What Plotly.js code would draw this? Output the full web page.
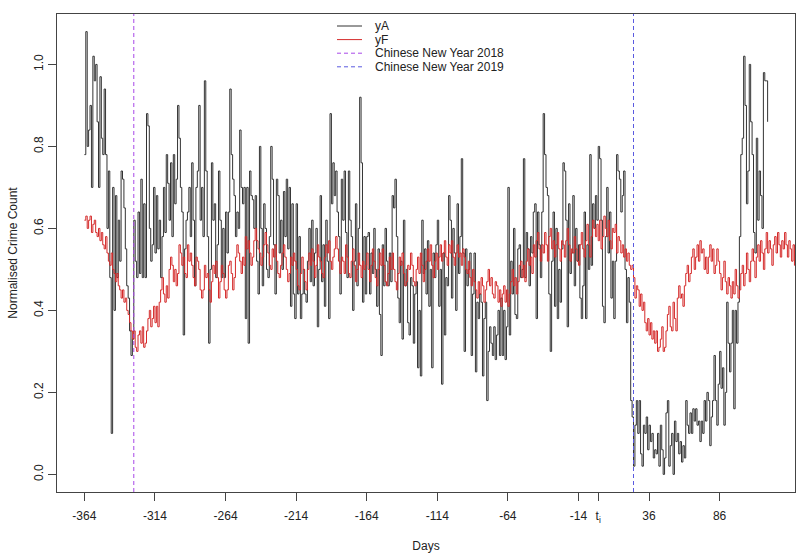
<!DOCTYPE html>
<html>
<head>
<meta charset="utf-8">
<script src="https://cdn.plot.ly/plotly-3.0.1.min.js"></script>
<style>
  html, body { margin: 0; padding: 0; background: #fff; }
  #graph { width: 800px; height: 555px; }
</style>
</head>
<body>
<div id="graph"></div>
<script>
// first day of both series (days relative to t_i)
var startDay = -364;

// actual normalised crime count, one value per day from -364 to 120
var yA = [
  0.78, 1.08, 0.80, 0.84, 0.90, 0.70, 1.02, 0.96, 1.00, 0.86,
  0.70, 0.97, 0.82, 0.78, 0.94, 0.78, 0.60, 0.74, 0.48, 0.10,
  0.70, 0.40, 0.68, 0.48, 0.62, 0.52, 0.74, 0.72, 0.65, 0.55,
  0.46, 0.43, 0.35, 0.29, 0.33, 0.62, 0.52, 0.48, 0.64, 0.49,
  0.72, 0.48, 0.66, 0.48, 0.88, 0.85, 0.60, 0.52, 0.56, 0.70,
  // -314
  0.54, 0.68, 0.55, 0.62, 0.48, 0.58, 0.70, 0.59, 0.78, 0.71,
  0.62, 0.76, 0.58, 0.78, 0.66, 0.72, 0.90, 0.82, 0.70, 0.64,
  0.34, 0.55, 0.62, 0.64, 0.70, 0.58, 0.76, 0.62, 0.46, 0.70,
  0.74, 0.90, 0.62, 0.70, 0.58, 0.96, 0.74, 0.58, 0.32, 0.50,
  0.76, 0.62, 0.66, 0.48, 0.56, 0.74, 0.62, 0.48, 0.60, 0.48,
  // -264
  0.64, 0.54, 0.64, 0.94, 0.78, 0.72, 0.68, 0.58, 0.64, 0.60,
  0.84, 0.70, 0.66, 0.70, 0.38, 0.70, 0.32, 0.74, 0.68, 0.67,
  0.60, 0.68, 0.52, 0.44, 0.80, 0.60, 0.46, 0.66, 0.60, 0.50,
  0.48, 0.58, 0.80, 0.72, 0.56, 0.44, 0.72, 0.68, 0.54, 0.62,
  0.50, 0.69, 0.58, 0.72, 0.55, 0.70, 0.41, 0.66, 0.44, 0.38,
  // -214
  0.66, 0.44, 0.58, 0.38, 0.44, 0.50, 0.44, 0.42, 0.52, 0.60,
  0.47, 0.62, 0.46, 0.54, 0.60, 0.36, 0.50, 0.68, 0.47, 0.56,
  0.41, 0.62, 0.52, 0.38, 0.88, 0.66, 0.76, 0.68, 0.74, 0.64,
  0.58, 0.44, 0.72, 0.62, 0.74, 0.59, 0.48, 0.74, 0.62, 0.58,
  0.40, 0.52, 0.66, 0.46, 0.60, 0.92, 0.76, 0.42, 0.58, 0.44,
  // -164
  0.58, 0.59, 0.44, 0.54, 0.49, 0.60, 0.50, 0.41, 0.55, 0.39,
  0.29, 0.56, 0.46, 0.60, 0.52, 0.46, 0.54, 0.47, 0.68, 0.65,
  0.72, 0.58, 0.43, 0.37, 0.52, 0.33, 0.62, 0.46, 0.50, 0.37,
  0.34, 0.48, 0.46, 0.32, 0.44, 0.47, 0.26, 0.40, 0.24, 0.62,
  0.49, 0.55, 0.44, 0.57, 0.41, 0.50, 0.26, 0.54, 0.48, 0.56,
  // -114
  0.62, 0.41, 0.50, 0.22, 0.54, 0.34, 0.48, 0.46, 0.68, 0.62,
  0.43, 0.60, 0.54, 0.40, 0.66, 0.49, 0.58, 0.77, 0.54, 0.30,
  0.55, 0.46, 0.50, 0.54, 0.29, 0.44, 0.54, 0.25, 0.42, 0.38,
  0.44, 0.42, 0.24, 0.38, 0.42, 0.18, 0.30, 0.36, 0.32, 0.29,
  0.36, 0.28, 0.34, 0.40, 0.29, 0.43, 0.29, 0.40, 0.28, 0.36,
  // -64
  0.70, 0.34, 0.52, 0.44, 0.60, 0.39, 0.38, 0.55, 0.56, 0.48,
  0.50, 0.77, 0.48, 0.59, 0.55, 0.46, 0.58, 0.54, 0.64, 0.66,
  0.38, 0.64, 0.56, 0.48, 0.64, 0.88, 0.78, 0.70, 0.68, 0.44,
  0.30, 0.52, 0.64, 0.41, 0.60, 0.38, 0.50, 0.42, 0.55, 0.76,
  0.74, 0.62, 0.36, 0.66, 0.49, 0.54, 0.68, 0.46, 0.60, 0.52,
  // -14
  0.56, 0.43, 0.38, 0.46, 0.64, 0.38, 0.56, 0.50, 0.78, 0.51,
  0.66, 0.60, 0.68, 0.62, 0.80, 0.77, 0.62, 0.41, 0.37, 0.58,
  0.70, 0.54, 0.64, 0.43, 0.52, 0.38, 0.52, 0.78, 0.74, 0.72,
  0.64, 0.68, 0.74, 0.50, 0.37, 0.48, 0.42, 0.18, 0.14, 0.02,
  0.12, 0.18, 0.10, 0.18, 0.05, 0.02, 0.12, 0.10, 0.14, 0.06,
  // 36
  0.12, 0.08, 0.10, 0.04, 0.06, 0.05, 0.10, 0.02, 0.12, 0.06,
  0.00, 0.04, 0.15, 0.18, 0.02, 0.07, 0.10, 0.00, 0.13, 0.08,
  0.10, 0.05, 0.08, 0.03, 0.07, 0.04, 0.18, 0.12, 0.10, 0.15,
  0.10, 0.16, 0.13, 0.16, 0.12, 0.13, 0.08, 0.13, 0.10, 0.18,
  0.13, 0.20, 0.18, 0.07, 0.14, 0.18, 0.29, 0.18, 0.12, 0.22,
  // 86
  0.30, 0.21, 0.26, 0.12, 0.20, 0.42, 0.32, 0.25, 0.32, 0.40,
  0.16, 0.40, 0.32, 0.42, 0.58, 0.78, 0.82, 1.02, 0.90, 0.66,
  0.74, 1.00, 0.86, 0.78, 0.59, 0.54, 0.82, 0.62, 0.74, 0.68,
  0.60, 0.98, 0.96, 0.96, 0.86
];

// forecast, one value per day from -364 to 140
var yF = [
  0.62, 0.63, 0.60, 0.62, 0.63, 0.59, 0.61,
  0.62, 0.59, 0.58, 0.60, 0.57, 0.59, 0.56,
  0.55, 0.58, 0.54, 0.52, 0.51, 0.54, 0.50,
  0.49, 0.47, 0.49, 0.46, 0.45, 0.43, 0.45,
  0.42, 0.43, 0.40, 0.39, 0.37, 0.35, 0.33,
  0.35, 0.31, 0.30, 0.34, 0.35, 0.32, 0.36,
  0.31, 0.32, 0.35, 0.38, 0.40, 0.36, 0.38,
  0.41,
  // -314
  0.37, 0.41, 0.36, 0.42, 0.45, 0.48, 0.44,
  0.42, 0.46, 0.43, 0.50, 0.53, 0.51, 0.47,
  0.50, 0.46, 0.49, 0.56, 0.54, 0.51, 0.53,
  0.49, 0.48, 0.56, 0.52, 0.54, 0.51, 0.48,
  0.46, 0.53, 0.52, 0.50, 0.45, 0.43, 0.45,
  0.51, 0.48, 0.49, 0.45, 0.42, 0.47, 0.51,
  0.49, 0.52, 0.48, 0.43, 0.47, 0.51, 0.49,
  0.45,
  // -264
  0.43, 0.45, 0.51, 0.52, 0.49, 0.45, 0.48,
  0.53, 0.56, 0.54, 0.52, 0.49, 0.53, 0.51,
  0.58, 0.55, 0.57, 0.54, 0.51, 0.53, 0.57,
  0.60, 0.57, 0.55, 0.54, 0.51, 0.53, 0.56,
  0.59, 0.56, 0.54, 0.51, 0.50, 0.55, 0.53,
  0.56, 0.52, 0.49, 0.48, 0.51, 0.54, 0.56,
  0.53, 0.50, 0.47, 0.49, 0.53, 0.51, 0.54,
  0.52,
  // -214
  0.50, 0.46, 0.45, 0.49, 0.53, 0.50, 0.47,
  0.45, 0.50, 0.54, 0.51, 0.55, 0.52, 0.48,
  0.51, 0.56, 0.53, 0.52, 0.49, 0.48, 0.53,
  0.56, 0.54, 0.57, 0.52, 0.50, 0.53, 0.55,
  0.58, 0.55, 0.52, 0.49, 0.53, 0.52, 0.49,
  0.56, 0.53, 0.49, 0.48, 0.52, 0.55, 0.51,
  0.47, 0.50, 0.54, 0.51, 0.48, 0.52, 0.50,
  0.51,
  // -164
  0.54, 0.50, 0.47, 0.51, 0.55, 0.52, 0.48,
  0.46, 0.50, 0.54, 0.51, 0.55, 0.51, 0.47,
  0.46, 0.49, 0.53, 0.50, 0.54, 0.50, 0.47,
  0.45, 0.49, 0.53, 0.51, 0.54, 0.49, 0.46,
  0.47, 0.51, 0.50, 0.54, 0.51, 0.47, 0.46,
  0.50, 0.53, 0.49, 0.54, 0.51, 0.47, 0.50,
  0.52, 0.55, 0.52, 0.56, 0.51, 0.48, 0.52,
  0.54,
  // -114
  0.50, 0.53, 0.56, 0.52, 0.54, 0.57, 0.53,
  0.51, 0.56, 0.54, 0.57, 0.53, 0.51, 0.54,
  0.56, 0.53, 0.54, 0.51, 0.55, 0.53, 0.50,
  0.49, 0.52, 0.48, 0.46, 0.50, 0.47, 0.45,
  0.43, 0.47, 0.44, 0.48, 0.46, 0.42, 0.45,
  0.47, 0.50, 0.46, 0.48, 0.44, 0.43, 0.47,
  0.46, 0.42, 0.45, 0.41, 0.44, 0.46, 0.42,
  0.45,
  // -64
  0.41, 0.44, 0.47, 0.50, 0.46, 0.48, 0.44,
  0.47, 0.51, 0.52, 0.48, 0.51, 0.47, 0.52,
  0.55, 0.51, 0.53, 0.49, 0.56, 0.53, 0.57,
  0.59, 0.55, 0.52, 0.56, 0.54, 0.59, 0.56,
  0.52, 0.58, 0.60, 0.55, 0.57, 0.53, 0.56,
  0.59, 0.55, 0.52, 0.57, 0.56, 0.53, 0.57,
  0.60, 0.56, 0.52, 0.55, 0.54, 0.58, 0.55,
  0.52,
  // -14
  0.51, 0.56, 0.59, 0.55, 0.53, 0.57, 0.61,
  0.56, 0.53, 0.58, 0.62, 0.60, 0.58, 0.61,
  0.57, 0.62, 0.55, 0.58, 0.63, 0.60, 0.58,
  0.62, 0.57, 0.55, 0.60, 0.59, 0.61, 0.54,
  0.58, 0.57, 0.54, 0.56, 0.53, 0.55, 0.52,
  0.54, 0.51, 0.50, 0.51, 0.48, 0.43, 0.46,
  0.45, 0.41, 0.44, 0.40, 0.42, 0.37, 0.35,
  0.38,
  // 36
  0.34, 0.37, 0.33, 0.35, 0.32, 0.35, 0.30,
  0.31, 0.33, 0.36, 0.30, 0.31, 0.35, 0.39,
  0.41, 0.36, 0.35, 0.42, 0.38, 0.35, 0.43,
  0.46, 0.43, 0.44, 0.41, 0.46, 0.49, 0.51,
  0.47, 0.49, 0.53, 0.55, 0.50, 0.53, 0.56,
  0.52, 0.57, 0.54, 0.55, 0.50, 0.53, 0.49,
  0.53, 0.56, 0.52, 0.55, 0.49, 0.51, 0.55,
  0.52,
  // 86
  0.49, 0.45, 0.48, 0.52, 0.47, 0.44, 0.48,
  0.46, 0.43, 0.47, 0.44, 0.50, 0.46, 0.43,
  0.45, 0.49, 0.51, 0.46, 0.49, 0.54, 0.50,
  0.47, 0.52, 0.55, 0.52, 0.48, 0.53, 0.56,
  0.52, 0.57, 0.54, 0.50, 0.55, 0.59, 0.54,
  0.57, 0.55, 0.51, 0.56, 0.58, 0.54, 0.59,
  0.56, 0.53, 0.57, 0.55, 0.59, 0.56, 0.53,
  0.57, 0.55, 0.52, 0.56, 0.51, 0.55
];

// Chinese New Year, in days
var cnyDays = [-329, 25];

var xTickVals = [-364, -314, -264, -214, -164, -114, -64, -14, 0, 36, 86];
var xTickText = ['-364', '-314', '-264', '-214', '-164', '-114', '-64', '-14', 't<sub>i</sub>', '36', '86'];
var yTickVals = [0, 0.2, 0.4, 0.6, 0.8, 1.0];
var yTickText = ['0.0', '0.2', '0.4', '0.6', '0.8', '1.0'];

var legendNames = ['yA', 'yF', 'Chinese New Year 2018', 'Chinese New Year 2019'];
var legendColors = ['#333333', '#d42a2a', '#a848e8', '#5a5ae0'];
var legendDash = ['solid', 'solid', '4px,3px', '4px,3px'];

var xRange = [-383.4, 139.4];
var yRange = [-0.043, 1.123];

function daysFor(values) {
    var d = [];
    for (var i = 0; i < values.length; i++) d.push(startDay + i);
    return d;
}

var font = 'Liberation Sans, Arial, sans-serif';
var W = 800, H = 555;
var margin = { l: 57, r: 5, t: 14, b: 63 };

// pixel -> paper helpers, used only to place the R style legend box
function px(xp) { return (xp - margin.l) / (W - margin.l - margin.r); }
function py(yp) { return 1 - (yp - margin.t) / (H - margin.t - margin.b); }

var traceA = {
    x: daysFor(yA), y: yA, name: legendNames[0], mode: 'lines',
    line: { shape: 'hv', color: legendColors[0], width: 1 }
};
var traceF = {
    x: daysFor(yF), y: yF, name: legendNames[1], mode: 'lines',
    line: { shape: 'hv', color: legendColors[1], width: 1 }
};

var shapes = [], annotations = [];

// the two Chinese New Year markers, placed on the x axis scale
for (var k = 0; k < cnyDays.length; k++) {
    shapes.push({
        type: 'line', xref: 'x', yref: 'paper',
        x0: cnyDays[k], x1: cnyDays[k], y0: 0, y1: 1,
        line: { color: legendColors[2 + k], width: 1, dash: legendDash[2 + k] }
    });
}

// legend drawn by hand so the rows sit as tight as in the R plot
for (var i = 0; i < legendNames.length; i++) {
    var rowY = 26 + i * 13.6;
    shapes.push({
        type: 'line', xref: 'paper', yref: 'paper',
        x0: px(337), x1: px(362), y0: py(rowY), y1: py(rowY),
        line: { color: legendColors[i], width: 1, dash: legendDash[i] }
    });
    annotations.push({
        xref: 'paper', yref: 'paper', x: px(373), y: py(rowY),
        xanchor: 'left', yanchor: 'middle', showarrow: false,
        text: legendNames[i],
        font: { family: font, size: 12, color: '#222' }
    });
}

var axisCommon = {
    showgrid: false, zeroline: false,
    showline: true, mirror: true, linecolor: '#444', linewidth: 1,
    ticks: 'outside', ticklen: 8, tickcolor: '#444', tickwidth: 1,
    tickfont: { family: font, size: 12, color: '#222' }
};

var layout = {
    width: W, height: H,
    margin: margin,
    paper_bgcolor: '#fff', plot_bgcolor: '#fff',
    font: { family: font, size: 12, color: '#222' },
    showlegend: false,
    shapes: shapes,
    annotations: annotations,
    xaxis: Object.assign({}, axisCommon, {
        range: xRange,
        tickmode: 'array', tickvals: xTickVals, ticktext: xTickText,
        ticklabelstandoff: 5,
        title: { text: 'Days', font: { family: font, size: 12, color: '#222' }, standoff: 17 }
    }),
    yaxis: Object.assign({}, axisCommon, {
        range: yRange,
        tickmode: 'array', tickvals: yTickVals, ticktext: yTickText,
        tickangle: -90,
        title: { text: 'Normalised Crime Count', font: { family: font, size: 12, color: '#222' }, standoff: 12 }
    })
};

Plotly.newPlot('graph', [traceA, traceF], layout, { staticPlot: true });
</script>
</body>
</html>
